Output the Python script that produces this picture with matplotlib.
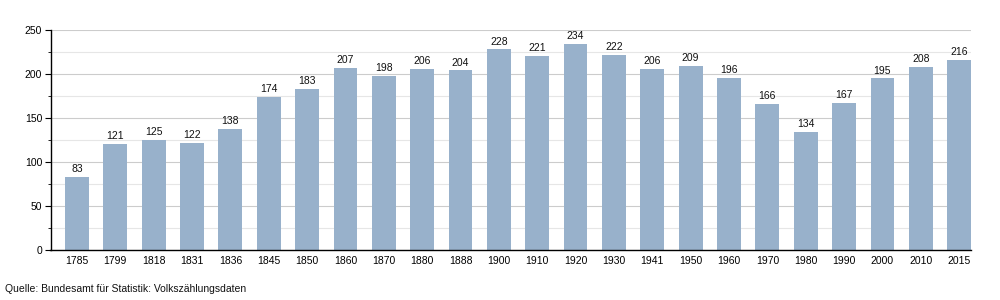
import matplotlib
matplotlib.use("Agg")
import matplotlib.pyplot as plt
from matplotlib.ticker import MultipleLocator

plt.rcParams['font.family'] = ['Liberation Sans', 'DejaVu Sans']

years = ["1785", "1799", "1818", "1831", "1836", "1845", "1850", "1860", "1870", "1880",
         "1888", "1900", "1910", "1920", "1930", "1941", "1950", "1960", "1970", "1980",
         "1990", "2000", "2010", "2015"]
population = [83, 121, 125, 122, 138, 174, 183, 207, 198, 206,
              204, 228, 221, 234, 222, 206, 209, 196, 166, 134,
              167, 195, 208, 216]
source = "Quelle: Bundesamt für Statistik: Volkszählungsdaten"

fig = plt.figure(figsize=(10, 3), dpi=100)
ax = fig.add_axes([0.0505, 0.1667, 0.9205, 0.7333])

x = list(range(len(years)))
ax.bar(x, population, width=0.62, color="#98b1cb", zorder=2)
for xi, v in zip(x, population):
    ax.text(xi, v + 3, str(v), ha="center", va="bottom", fontsize=7.5, color="#111111")

ax.set_xlim(-0.69, len(years) - 1 + 0.31)
ax.set_ylim(0, 250)
ax.set_xticks(x)
ax.set_xticklabels(years, fontsize=7.5)
ax.yaxis.set_major_locator(MultipleLocator(50))
ax.yaxis.set_minor_locator(MultipleLocator(25))
ax.tick_params(axis="y", labelsize=7.5, length=4, width=0.8, pad=2)
ax.tick_params(axis="y", which="minor", length=2, width=0.6)
ax.tick_params(axis="x", length=0, pad=4)
ax.grid(axis="y", which="major", color="#cccccc", linewidth=0.8, zorder=0)
ax.grid(axis="y", which="minor", color="#e6e6e6", linewidth=0.8, zorder=0)
for s in ["top", "right"]:
    ax.spines[s].set_visible(False)
ax.spines["left"].set_linewidth(1.0)
ax.spines["bottom"].set_linewidth(1.0)

fig.text(0.005, 0.035, source, fontsize=7.5, ha="left", va="center", color="#111111")

fig.savefig("out.png", dpi=100)
